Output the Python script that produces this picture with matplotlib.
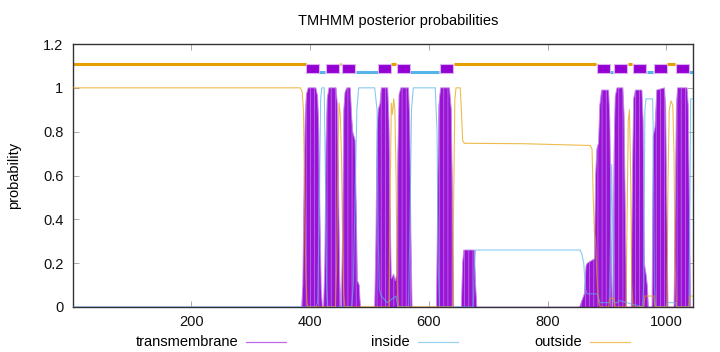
import matplotlib
matplotlib.use("Agg")
from matplotlib import pyplot as plt
from matplotlib.lines import Line2D
from matplotlib.ticker import FuncFormatter

plt.rcParams["font.family"] = ["Liberation Sans", "DejaVu Sans"]
plt.rcParams["hatch.linewidth"] = 0.6

SEQ_LEN = 1045

# predicted topology, drawn as the track at the top
tm_segments = [(394, 415), (427, 449), (454, 476), (515, 536), (546, 568),
               (619, 641), (883, 905), (912, 934), (944, 966), (979, 1001),
               (1016, 1038)]
inside_segments = [(416, 426), (477, 514), (569, 618), (906, 911), (967, 978),
                   (1039, 1045)]
outside_segments = [(1, 393), (450, 453), (537, 545), (642, 882), (935, 943),
                    (1002, 1015)]

# posterior probabilities, (residue, probability)
tm_points = [
    (1, 0), (386, 0), (388, 0.1), (390, 0.55), (392, 0.88), (394, 0.97), (397, 1.0),
    (410, 1.0), (413, 0.96), (415, 0.8), (417, 0.4), (419, 0.08), (421, 0),
    (423, 0), (425, 0.2), (427, 0.75), (429, 0.95), (432, 1.0), (444, 1.0),
    (446, 0.93), (448, 0.6), (450, 0.15), (452, 0),
    (453, 0), (455, 0.4), (457, 0.9), (459, 0.98), (462, 1.0), (468, 1.0),
    (470, 0.88), (472, 0.8), (476, 0.76), (478, 0.45), (480, 0.12), (483, 0.1),
    (485, 0),
    (509, 0), (511, 0.3), (513, 0.8), (515, 0.9), (518, 0.93), (520, 1.0),
    (531, 1.0), (533, 0.85), (535, 0.45), (537, 0.13), (541, 0.15), (544, 0.12),
    (546, 0.15), (548, 0.7), (550, 0.97), (553, 1.0), (566, 1.0), (568, 0.85),
    (570, 0.35), (572, 0),
    (613, 0), (615, 0.5), (617, 0.92), (620, 1.0), (635, 1.0), (638, 0.9),
    (640, 0.5), (642, 0),
    (655, 0), (657, 0.2), (659, 0.26), (677, 0.26), (679, 0.1), (681, 0),
    (854, 0), (858, 0.03), (862, 0.06), (865, 0.19), (867, 0.2), (879, 0.22),
    (881, 0.6), (883, 0.72), (886, 0.75), (888, 0.92), (891, 0.99), (903, 0.99),
    (905, 0.85), (907, 0.35), (909, 0),
    (910, 0), (912, 0.7), (914, 0.96), (917, 1.0), (927, 1.0), (929, 0.88),
    (931, 0.45), (933, 0),
    (941, 0), (943, 0.6), (945, 0.95), (948, 0.99), (959, 0.99), (961, 0.85),
    (963, 0.2), (966, 0.15), (968, 0.1), (970, 0),
    (976, 0), (978, 0.78), (981, 0.82), (984, 0.99), (997, 1.0), (999, 0.92),
    (1001, 0.45), (1003, 0),
    (1013, 0), (1015, 0.45), (1017, 0.92), (1019, 1.0), (1035, 1.0), (1037, 0.92),
    (1039, 0.45), (1041, 0), (1045, 0),
]
inside_points = [
    (1, 0), (410, 0), (413, 0.02), (416, 0.5), (418, 0.95), (420, 1.0), (424, 1.0),
    (426, 0.6), (428, 0.1), (430, 0),
    (470, 0), (473, 0.1), (476, 0.5), (479, 0.9), (482, 1.0), (509, 1.0),
    (511, 0.95), (513, 0.9), (515, 0.3), (517, 0.08), (520, 0.05), (530, 0.02),
    (545, 0.05), (548, 0),
    (566, 0), (568, 0.3), (571, 0.9), (574, 1.0), (611, 1.0), (614, 0.8),
    (616, 0.2), (618, 0),
    (675, 0), (677, 0.2), (679, 0.26), (855, 0.26), (858, 0.24), (861, 0.2),
    (864, 0.08), (867, 0.06), (884, 0.06), (888, 0.02), (904, 0.02), (906, 0.3),
    (908, 0.65), (910, 0.3), (912, 0.02), (918, 0.02), (920, 0.03),
    (960, 0), (962, 0.1), (964, 0.9), (966, 0.95), (977, 0.95), (978, 0.82),
    (980, 0.1), (982, 0),
    (1000, 0), (1002, 0.02), (1015, 0.02), (1018, 0), (1038, 0), (1040, 0.5),
    (1041, 0.95), (1045, 0.95),
]
outside_points = [
    (1, 1.0), (384, 1.0), (387, 0.98), (389, 0.9), (391, 0.5), (393, 0.15),
    (395, 0.02), (397, 0),
    (443, 0), (445, 0.2), (447, 0.7), (449, 0.93), (451, 0.88), (453, 0.7),
    (455, 0.3), (457, 0.05), (459, 0),
    (533, 0), (535, 0.5), (537, 0.93), (539, 0.88), (541, 0.95), (543, 0.9),
    (545, 0.6), (547, 0.1), (549, 0),
    (640, 0), (642, 0.5), (644, 0.95), (646, 1.0), (653, 1.0), (655, 0.9),
    (657, 0.76), (660, 0.747), (760, 0.745), (872, 0.737), (875, 0.72),
    (877, 0.5), (879, 0.34), (881, 0.3), (883, 0.15), (886, 0.02), (889, 0),
    (903, 0), (905, 0.04), (912, 0.04), (914, 0),
    (932, 0), (934, 0.4), (936, 0.85), (938, 0.9), (940, 0.6), (942, 0.1), (944, 0),
    (962, 0), (964, 0.05), (979, 0.05), (981, 0),
    (1001, 0), (1003, 0.6), (1005, 0.9), (1008, 0.94), (1011, 0.92), (1013, 0.7),
    (1015, 0.2), (1017, 0), (1038, 0), (1040, 0.05), (1045, 0.05),
]

x_ticks = [200, 400, 600, 800, 1000]
y_ticks = [0, 0.2, 0.4, 0.6, 0.8, 1.0, 1.2]

TM_COLOR = "#9400d3"
IN_COLOR = "#56b4e9"
OUT_COLOR = "#e69f00"

W, H = 720, 352
fig = plt.figure(figsize=(W / 100, H / 100), dpi=100)
ax = fig.add_axes([73 / W, 1 - 307 / H, 620 / W, 263 / H])

# --- top track --------------------------------------------------------------
for start, end in outside_segments:
    ax.plot([start, end], [1.11, 1.11], color=OUT_COLOR, lw=2.2, solid_capstyle="butt")
for start, end in inside_segments:
    ax.plot([start, end], [1.07, 1.07], color=IN_COLOR, lw=2.2, solid_capstyle="butt")
ax.bar([s for s, _ in tm_segments], 0.045,
       width=[e - s for s, e in tm_segments], bottom=1.066, align="edge",
       color=TM_COLOR, edgecolor="#dcb0f2", linewidth=0.8, zorder=3)

# --- posterior curves -------------------------------------------------------
tm_x, tm_y = zip(*tm_points)
in_x, in_y = zip(*inside_points)
out_x, out_y = zip(*outside_points)

ax.fill_between(tm_x, 0, tm_y, facecolor="#9a14d6", edgecolor="#b868e4",
                hatch="||||", linewidth=0.0, zorder=2)
ax.plot(tm_x, tm_y, color="#c58ae8", lw=0.6, zorder=2)
ax.plot(in_x, in_y, color=IN_COLOR, lw=0.8, alpha=0.7, zorder=4)
ax.plot(out_x, out_y, color=OUT_COLOR, lw=0.8, alpha=0.7, zorder=4)

# --- axes -------------------------------------------------------------------
ax.set_xlim(1, SEQ_LEN)
ax.set_ylim(0, 1.2)
ax.set_xticks(x_ticks)
ax.set_yticks(y_ticks)
ax.yaxis.set_major_formatter(FuncFormatter(lambda v, _: "%g" % v))
ax.tick_params(direction="in", length=4, width=0.5, color="#888888",
               top=True, right=True, labelsize=10.5, labelcolor="#111111")
ax.tick_params(axis="x", pad=6)
ax.tick_params(axis="y", pad=7)
for sp in ax.spines.values():
    sp.set_linewidth(1.0)
    sp.set_color("#333333")

fig.text(398 / W, 1 - 21 / H, "TMHMM posterior probabilities", ha="center",
         va="center", fontsize=10.5)
fig.text(14 / W, 1 - 175 / H, "probability", rotation=90, ha="center",
         va="center", fontsize=10.5)

# legend, drawn in figure pixels like gnuplot's horizontal key
legend_items = [("transmembrane", 238, TM_COLOR),
                ("inside", 410, IN_COLOR),
                ("outside", 582, OUT_COLOR)]
ly = 1 - 342 / H
for label, x_end, col in legend_items:
    fig.text(x_end / W, ly, label, ha="right", va="center", fontsize=10.5)
    fig.add_artist(Line2D([(x_end + 8) / W, (x_end + 48) / W], [ly, ly],
                          color=col, lw=0.9, alpha=0.6))

fig.savefig("out.png", dpi=100)
